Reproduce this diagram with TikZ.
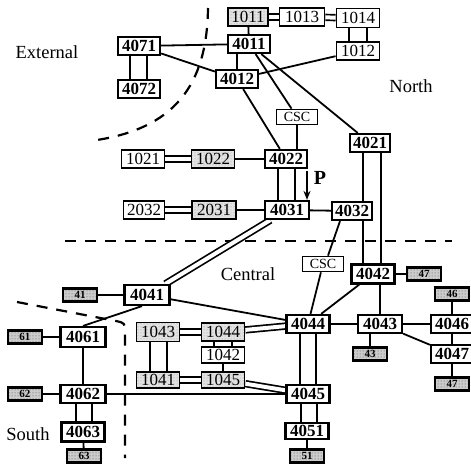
\documentclass[tikz,border=0pt]{standalone}
\usepackage{fontspec}
\setmainfont{Liberation Serif}
\usetikzlibrary{backgrounds,patterns,arrows.meta}
\tikzset{
 bx/.style={draw, line width=2.2pt, fill=white, minimum width=42pt, minimum height=18pt, inner sep=0pt, font=\fontsize{17}{17}\selectfont\bfseries},
 rbx/.style={bx, line width=1.8pt, font=\fontsize{17}{17}\selectfont},
 shd/.style={preaction={fill=gray!22}, pattern=dots, pattern color=gray!80},
 stub/.style={draw, line width=2.4pt, minimum width=34pt, minimum height=13pt, inner sep=0pt, font=\fontsize{11}{11}\selectfont\bfseries, preaction={fill=gray!40}, pattern=dots, pattern color=black!70},
 csc/.style={draw, line width=1.7pt, fill=white, minimum width=41pt, minimum height=15pt, inner sep=0pt, font=\fontsize{14}{14}\selectfont},
 ln/.style={line width=1.8pt},
 dbl/.style={double, double distance=4pt, line width=1.7pt},
 bnd/.style={line width=2.2pt, dash pattern=on 11pt off 9pt},
 reg/.style={font=\fontsize{18.5}{18.5}\selectfont},
}
\begin{document}
\begin{tikzpicture}[x=1pt,y=-1pt]
\useasboundingbox (0,0) rectangle (471,468);
% nodes
\node[rbx,shd,minimum width=40pt] (n1011) at (248,17) {1011};
\node[rbx,minimum width=45pt] (n1013) at (302,17) {1013};
\node[rbx,minimum width=43pt,minimum height=19pt] (n1014) at (358,18) {1014};
\node[rbx,minimum width=43pt] (n1012r) at (358,51) {1012};
\node[bx] (n4011) at (249,44) {4011};
\node[bx] (n4071) at (139,46) {4071};
\node[bx] (n4072) at (139,89) {4072};
\node[bx] (n4012) at (237,79) {4012};
\node[csc] (csc1) at (297,117) {CSC};
\node[bx,minimum width=40pt] (n4021) at (370,143) {4021};
\node[rbx,minimum width=43pt] (n1021) at (143,159) {1021};
\node[rbx,shd,minimum width=43pt] (n1022) at (213,159) {1022};
\node[bx] (n4022) at (286,159) {4022};
\node[rbx,minimum width=41pt] (n2032) at (144,210) {2032};
\node[rbx,shd,minimum width=44pt] (n2031) at (214,210) {2031};
\node[bx,minimum width=44pt] (n4031) at (287,210) {4031};
\node[bx,minimum width=40pt] (n4032) at (352,211) {4032};
\node[csc] (csc2) at (323,264) {CSC};
\node[bx,minimum width=43pt,minimum height=19pt] (n4042) at (373,274) {4042};
\node[stub] (s47a) at (424,274) {47};
\node[stub] (s46) at (452,294) {46};
\node[bx] (n4046) at (452,324) {4046};
\node[bx] (n4047) at (452,354) {4047};
\node[stub] (s47b) at (452,384) {47};
\node[bx,minimum width=44pt] (n4043) at (380,324) {4043};
\node[stub] (s43) at (370,354) {43};
\node[bx,minimum width=43pt] (n4044) at (308,324) {4044};
\node[bx,minimum width=43pt] (n4045) at (308,394) {4045};
\node[bx,minimum width=43pt,minimum height=16pt] (n4051) at (307,431) {4051};
\node[stub] (s51) at (307,456) {51};
\node[bx,minimum width=45pt,minimum height=20pt] (n4041) at (147,295) {4041};
\node[stub] (s41) at (80,295) {41};
\node[bx,minimum width=45pt,minimum height=20pt] (n4061) at (83,337) {4061};
\node[stub] (s61) at (25,337) {61};
\node[bx,minimum width=45pt] (n4062) at (83,394) {4062};
\node[stub] (s62) at (25,394) {62};
\node[bx,minimum width=43pt,minimum height=19pt] (n4063) at (83,432) {4063};
\node[stub] (s63) at (84,456) {63};
\node[rbx,shd,minimum width=43pt,minimum height=19pt] (n1043) at (158,332) {1043};
\node[rbx,shd,minimum width=43pt] (n1044) at (223,332) {1044};
\node[rbx,minimum width=43pt,minimum height=16pt] (n1042) at (223,355) {1042};
\node[rbx,shd,minimum width=43pt,minimum height=16pt] (n1045) at (223,380) {1045};
\node[rbx,shd,minimum width=43pt,minimum height=16pt] (n1041) at (158,380) {1041};
% labels
\node[reg] (lext) at (47,52) {External};
\node[reg] (lnorth) at (411,86) {North};
\node[reg] (lcen) at (248,274) {Central};
\node[reg] (lsouth) at (28,434) {South};
\node[font=\fontsize{20}{20}\selectfont\bfseries] (lp) at (320,178) {P};
\coordinate (ptop) at (307,171);
\draw[line width=1.8pt,-{Stealth[length=9pt,width=7pt]}] (ptop) -- (ptop |- n4031.north);
\begin{scope}[on background layer]
% boundaries
\draw[bnd] (208,8) .. controls (207,85) and (175,130) .. (90,141);
\draw[bnd] (65,241) -- (452,241);
\draw[bnd] (17,302) -- (116,321) .. controls (125,323) .. (125,333) -- (125,458);
% north
\draw[dbl] (n1011) -- (n1013);
\draw[dbl] (n1013) -- (n1014);
\draw[ln] ([xshift=-9pt]n1014.south) -- ([xshift=-9pt]n1012r.north);
\draw[ln] ([xshift=9pt]n1014.south) -- ([xshift=9pt]n1012r.north);
\draw[ln] (n1011) -- (n4011);
\draw[ln] (n4071) -- (n4011);
\draw[ln] ([xshift=-9pt]n4071.south) -- ([xshift=-9pt]n4072.north);
\draw[ln] ([xshift=8pt]n4071.south) -- ([xshift=8pt]n4072.north);
\draw[ln] (n4071) -- (n4012);
\draw[ln] (n4011.south -| n4012.north) -- (n4012.north);
\draw[ln] (n4012) -- (n1012r);
\draw[ln] (n4011) -- (csc1);
\draw[ln] (n4011) -- (n4021);
\draw[ln] (n4012) -- (n4022);
\draw[ln] (csc1.south) -- (csc1.south |- n4022.north);
\draw[dbl] (n1021) -- (n1022);
\draw[ln] (n1022) -- (n4022);
\draw[ln] ([xshift=-8pt]n4022.south) -- ([xshift=-8pt]n4022.south |- n4031.north);
\draw[ln] ([xshift=9pt]n4022.south) -- ([xshift=9pt]n4022.south |- n4031.north);
\draw[dbl] (n2032) -- (n2031);
\draw[ln] (n2031) -- (n4031);
\draw[ln] (n4031) -- (n4032);
\draw[ln] ([xshift=-7pt]n4021.south) -- ([xshift=-7pt]n4021.south |- n4032.north);
\draw[ln] ([xshift=-7pt]n4021.south |- n4032.south) -- ([xshift=-7pt]n4021.south |- n4042.north);
\draw[ln] ([xshift=11pt]n4021.south) -- ([xshift=11pt]n4021.south |- n4042.north);
% central
\draw[dbl] (n4031) -- (n4041);
\draw[ln] ([xshift=-12pt]n4032.south) -- ([xshift=5pt]csc2.north);
\draw[ln] (csc2) -- (n4044);
\draw[ln] (n4042) -- (n4044);
\draw[ln] (n4042) -- (s47a);
\draw[ln] (n4042.south -| n4043.north) -- (n4043.north);
\draw[ln] (n4044) -- (n4043);
\draw[ln] (n4043) -- (n4046);
\draw[ln] (n4043.south -| s43.north) -- (s43.north);
\draw[ln] (n4043) -- (n4047);
\draw[ln] (n4046) -- (n4047);
\draw[ln] (s46) -- (n4046);
\draw[ln] (n4047) -- (s47b);
\draw[ln] ([xshift=-8pt]n4044.south) -- ([xshift=-8pt]n4045.north);
\draw[ln] ([xshift=8pt]n4044.south) -- ([xshift=8pt]n4045.north);
\draw[ln] ([xshift=-7pt]n4045.south) -- ([xshift=-7pt]n4045.south |- n4051.north);
\draw[ln] ([xshift=9pt]n4045.south) -- ([xshift=9pt]n4045.south |- n4051.north);
\draw[ln] (n4051) -- (s51);
\draw[ln] (n4041) -- (n4044);
\draw[ln] (s41) -- (n4041);
\draw[ln] ([xshift=-5pt]n4041.south) -- (n4061.north);
\draw[ln] (s61) -- (n4061);
\draw[ln] (n4061) -- (n4062);
\draw[ln] (s62) -- (n4062);
\draw[ln] ([xshift=-7pt]n4062.south) -- ([xshift=-7pt]n4063.north);
\draw[ln] ([xshift=9pt]n4062.south) -- ([xshift=9pt]n4063.north);
\draw[ln] (n4063) -- (s63);
\draw[ln] (n4062) -- (n4045);
\draw[dbl] (n1043) -- (n1044);
\draw[ln] ([xshift=-8pt]n1043.south) -- ([xshift=-8pt]n1041.north);
\draw[ln] ([xshift=9pt]n1043.south) -- ([xshift=9pt]n1041.north);
\draw[dbl] (n1041) -- (n1045);
\draw[ln] ([xshift=-9pt]n1044.south) -- ([xshift=-9pt]n1042.north);
\draw[ln] ([xshift=9pt]n1044.south) -- ([xshift=9pt]n1042.north);
\draw[ln] (n1042) -- (n1045);
\draw[dbl] (n1044) -- (n4044);
\draw[dbl] (n1045) -- (n4045);
\end{scope}
\end{tikzpicture}
\end{document}
